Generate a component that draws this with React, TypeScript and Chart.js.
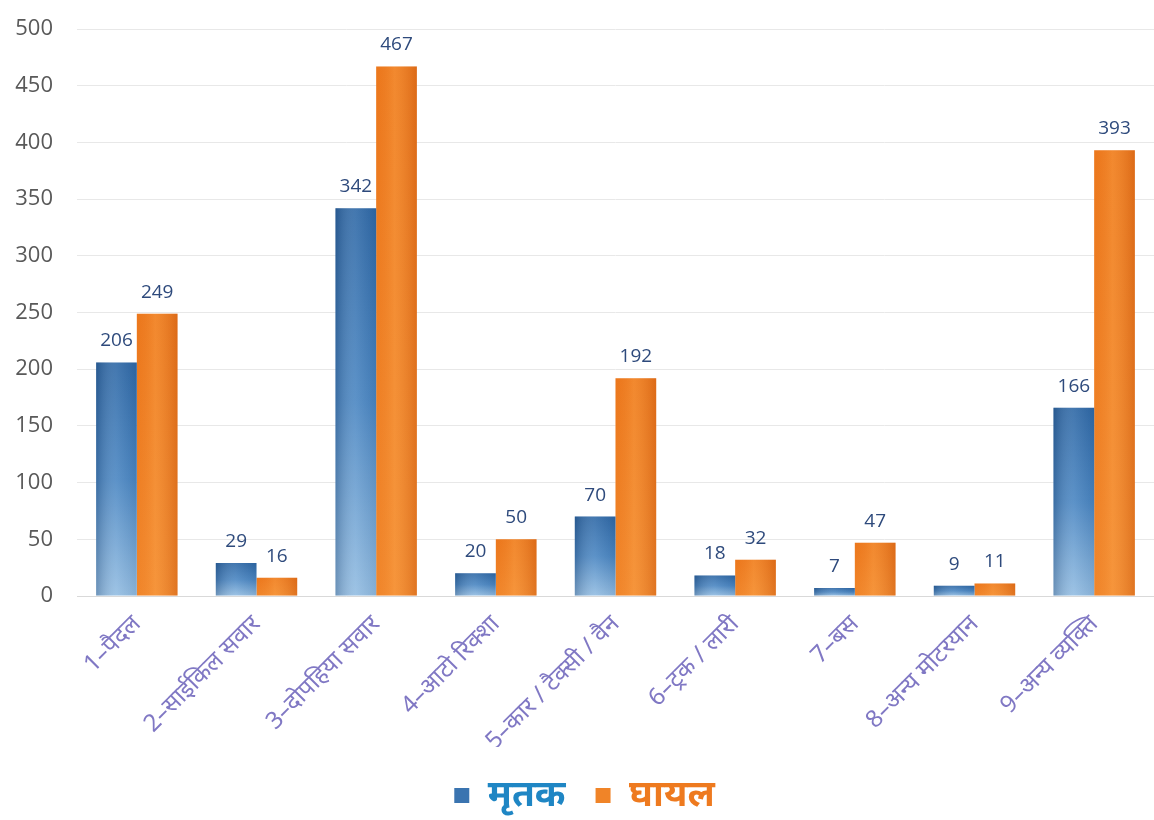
import React, { useEffect, useRef } from "react";
import { Chart, registerables } from "chart.js";

Chart.register(...registerables);

const categories = [
  "1–पैदल",
  "2–साईकिल सवार",
  "3–दोपहिया सवार",
  "4–आटो रिक्शा",
  "5–कार / टैक्सी / वैन",
  "6–ट्रक / लारी",
  "7–बस",
  "8–अन्य मोटरयान",
  "9–अन्य व्यक्ति",
];
const deaths = [206, 29, 342, 20, 70, 18, 7, 9, 166];
const injured = [249, 16, 467, 50, 192, 32, 47, 11, 393];
const seriesNames = ["मृतक", "घायल"];
const legendColors = ["#1f86c4", "#ee7a1f"];

const CAT_PCT = 0.68;

function barGradient(ctx: any, kind: number) {
  const chart = ctx.chart;
  const ys = chart.scales?.y;
  const area = chart.chartArea;
  const fallback = kind === 0 ? "#3a78b5" : "#f08428";
  if (!ys || !area || ctx.type !== "data") return fallback;
  const top = ys.getPixelForValue(ctx.raw);
  const bottom = ys.getPixelForValue(0);
  if (!isFinite(top) || !isFinite(bottom) || bottom - top < 1) return fallback;
  const g = chart.ctx.createLinearGradient(0, top, 0, bottom);
  if (kind === 0) {
    g.addColorStop(0, "#2e68a6");
    g.addColorStop(0.5, "#4a86c2");
    g.addColorStop(1, "#93bde2");
  } else {
    g.addColorStop(0, "#ef7b1f");
    g.addColorStop(1, "#f48a2e");
  }
  return g;
}

const shadePlugin = {
  id: "shade",
  afterDatasetsDraw(chart: any) {
    const c = chart.ctx;
    chart.data.datasets.forEach((_: any, di: number) => {
      const meta = chart.getDatasetMeta(di);
      meta.data.forEach((el: any) => {
        const w = el.width;
        const x0 = el.x - w / 2;
        const g = c.createLinearGradient(x0, 0, x0 + w, 0);
        if (di === 0) {
          g.addColorStop(0, "rgba(20,50,90,0.30)");
          g.addColorStop(0.5, "rgba(255,255,255,0.10)");
          g.addColorStop(1, "rgba(20,50,90,0.10)");
        } else {
          g.addColorStop(0, "rgba(200,80,0,0.08)");
          g.addColorStop(0.45, "rgba(255,200,120,0.18)");
          g.addColorStop(1, "rgba(170,60,0,0.28)");
        }
        c.save();
        c.fillStyle = g;
        c.fillRect(x0, el.y, w, el.base - el.y);
        c.restore();
      });
    });
  },
};

const valueLabelPlugin = {
  id: "valueLabels",
  afterDatasetsDraw(chart: any) {
    const c = chart.ctx;
    c.save();
    c.font = "19px 'Open Sans', 'Noto Sans', sans-serif";
    c.fillStyle = "#2e4a7c";
    c.textAlign = "center";
    c.textBaseline = "bottom";
    chart.data.datasets.forEach((ds: any, di: number) => {
      const meta = chart.getDatasetMeta(di);
      meta.data.forEach((el: any, i: number) => {
        c.fillText(String(ds.data[i]), el.x, el.y - 12);
      });
    });
    c.restore();
  },
};

export default function App() {
  const ref = useRef<HTMLCanvasElement | null>(null);
  useEffect(() => {
    if (!ref.current) return;
    const chart = new Chart(ref.current, {
      type: "bar",
      data: {
        labels: categories,
        datasets: [
          {
            label: seriesNames[0],
            data: deaths,
            backgroundColor: (ctx: any) => barGradient(ctx, 0),
            borderWidth: 0,
            categoryPercentage: CAT_PCT,
            barPercentage: 1,
          },
          {
            label: seriesNames[1],
            data: injured,
            backgroundColor: (ctx: any) => barGradient(ctx, 1),
            borderWidth: 0,
            categoryPercentage: CAT_PCT,
            barPercentage: 1,
          },
        ],
      },
      options: {
        animation: false,
        responsive: true,
        maintainAspectRatio: false,
        layout: { padding: { left: 15, right: 0, top: 29, bottom: -4 } },
        scales: {
          y: {
            min: 0,
            max: 500,
            afterFit: (scale: any) => {
              scale.width = 62;
              scale.paddingTop = 0;
              scale.paddingBottom = 0;
            },
            ticks: {
              stepSize: 50,
              color: "#595959",
              font: { size: 22, family: "'Open Sans', 'Noto Sans', sans-serif" },
              padding: 24,
            },
            grid: { color: "#e8e8e8", drawTicks: false },
            border: { display: false },
          },
          x: {
            afterFit: (scale: any) => {
              scale.height = 151;
              scale.paddingLeft = 0;
              scale.paddingRight = 0;
            },
            ticks: {
              minRotation: 45,
              maxRotation: 45,
              color: "#8078c4",
              font: { size: 24, family: "'Noto Sans', 'Open Sans', sans-serif" },
              padding: 6,
            },
            grid: { display: false },
            border: { color: "#d9d9d9" },
          },
        },
        plugins: {
          legend: {
            position: "bottom",
            labels: {
              boxWidth: 15,
              boxHeight: 15,
              padding: 30,
              font: { size: 37, weight: "bold", family: "'Noto Sans', sans-serif" },
              generateLabels: (chart: any) =>
                chart.data.datasets.map((ds: any, i: number) => ({
                  text: ds.label,
                  fillStyle: i === 0 ? "#3a74b0" : "#f08428",
                  strokeStyle: i === 0 ? "#3a74b0" : "#f08428",
                  lineWidth: 0,
                  fontColor: legendColors[i],
                  hidden: false,
                  datasetIndex: i,
                })),
            },
          },
          tooltip: { enabled: false },
        },
      },
      plugins: [shadePlugin, valueLabelPlugin],
    });
    return () => chart.destroy();
  }, []);
  return (
    <div style={{ position: "fixed", left: 0, top: 0, width: 1154, height: 820, background: "#fff" }}>
      <canvas ref={ref} />
    </div>
  );
}
